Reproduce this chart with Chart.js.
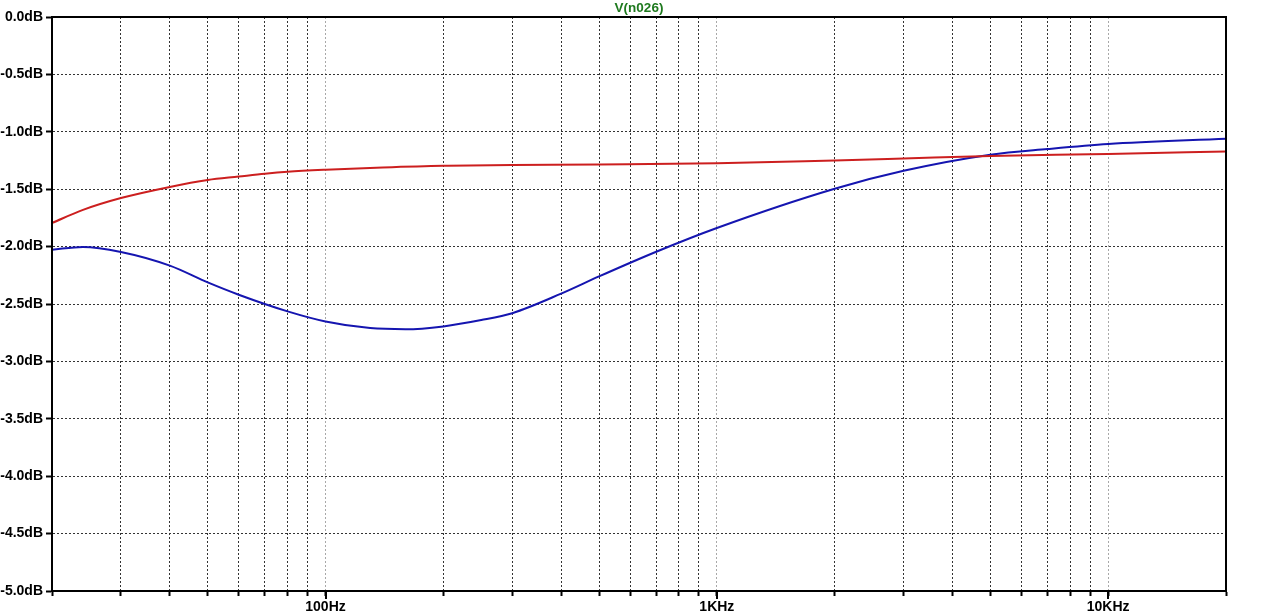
<!DOCTYPE html>
<html>
<head>
<meta charset="utf-8">
<script src="https://cdn.jsdelivr.net/npm/chart.js@4.4.1/dist/chart.umd.min.js"></script>
<style>
  html, body { margin: 0; padding: 0; background: #fff; }
  #wrap { width: 1280px; height: 616px; position: relative; }
</style>
</head>
<body>
<div id="wrap"><canvas id="plot"></canvas></div>
<script>
// blue trace: frequency (Hz) and level (dB)
var blueFreqs = [20, 24, 30, 40, 50, 60, 80, 100, 130, 160, 200, 250, 300, 400, 500, 700,
  1000, 2000, 3000, 5000, 7000, 10000, 20000];
var blueDb = [-2.027, -2.003, -2.047, -2.166, -2.312, -2.419, -2.564, -2.652, -2.71, -2.72, -2.695, -2.64,
  -2.58, -2.41, -2.26, -2.045, -1.838, -1.496, -1.34, -1.20, -1.15, -1.106, -1.06];

// red trace
var redFreqs = [20, 24, 30, 40, 50, 60, 70, 80, 100, 140, 200, 300, 500, 1000, 2000, 3000, 5000,
  10000, 20000];
var redDb = [-1.794, -1.68, -1.577, -1.48, -1.42, -1.39, -1.365, -1.348, -1.33, -1.31, -1.295, -1.29,
  -1.285, -1.275, -1.249, -1.232, -1.21, -1.194, -1.171];

var gridFreqs = [20, 30, 40, 50, 60, 70, 80, 90, 100, 200, 300, 400, 500, 600, 700, 800, 900,
  1000, 2000, 3000, 4000, 5000, 6000, 7000, 8000, 9000, 10000, 20000];
var xTickValues = [100, 1000, 10000];
var xTickLabels = ['100Hz', '1KHz', '10KHz'];
var yTicks = [0, -0.5, -1, -1.5, -2, -2.5, -3, -3.5, -4, -4.5, -5];
var traceTitle = 'V(n026)';

function toPoints(xs, ys){
    var pts = [];
    for (var i = 0; i < xs.length; i++) pts.push({x: xs[i], y: ys[i]});
    return pts;
}

var labelFont = {family: "'Liberation Sans', Arial, sans-serif", size: 14, weight: 'bold'};

var framePlugin = {
    id: 'frame',
    afterDatasetsDraw: function(chart){
        var a = chart.chartArea, ctx = chart.ctx;
        ctx.save();
        ctx.strokeStyle = '#000';
        ctx.lineWidth = 2;
        ctx.setLineDash([]);
        ctx.strokeRect(a.left, a.top, a.right - a.left, a.bottom - a.top);
        // longer ticks under the labelled decades
        var xs = chart.scales.x;
        ctx.beginPath();
        xTickValues.forEach(function(v){
            var px = Math.round(xs.getPixelForValue(v));
            ctx.moveTo(px, a.bottom);
            ctx.lineTo(px, a.bottom + 8);
        });
        ctx.stroke();
        ctx.fillStyle = '#1f7a1f';
        ctx.font = "bold 13.5px 'Liberation Sans', Arial, sans-serif";
        ctx.textAlign = 'center';
        ctx.textBaseline = 'middle';
        ctx.fillText(traceTitle, (a.left + a.right) / 2, 8.5);
        ctx.restore();
    }
};

var plot = document.getElementById('plot');
var plotChart = new Chart(plot, {
    type: 'line',
    data: {
        datasets: [{
            label: 'red',
            data: toPoints(redFreqs, redDb),
            borderColor: '#cc1f1f',
            borderWidth: 2,
            pointRadius: 0,
            cubicInterpolationMode: 'monotone'
        }, {
            label: 'blue',
            data: toPoints(blueFreqs, blueDb),
            borderColor: '#1515b0',
            borderWidth: 2,
            pointRadius: 0,
            cubicInterpolationMode: 'monotone'
        }]
    },
    options: {
        responsive: true,
        maintainAspectRatio: false,
        animation: false,
        layout: {padding: {top: 17, right: 54, left: 0, bottom: 0}},
        plugins: {
            legend: {display: false},
            tooltip: {enabled: false},
            title: {display: false}
        },
        scales: {
            x: {
                type: 'logarithmic',
                min: 20,
                max: 20000,
                afterBuildTicks: function(s){
                    s.ticks = gridFreqs.map(function(v){ return {value: v}; });
                },
                afterFit: function(s){ s.height = 25; },
                border: {display: true, color: '#000', width: 2, dash: [2, 2]},
                grid: {
                    color: function(c){
                        return c.tick && xTickValues.indexOf(c.tick.value) >= 0 ? '#a8a8a8' : '#333';
                    },
                    lineWidth: 1,
                    tickColor: '#000',
                    tickWidth: 2,
                    tickLength: 5
                },
                ticks: {
                    autoSkip: false,
                    maxRotation: 0,
                    padding: 3,
                    color: '#000',
                    font: labelFont,
                    callback: function(v){
                        var i = xTickValues.indexOf(v);
                        return i >= 0 ? xTickLabels[i] : '';
                    }
                }
            },
            y: {
                type: 'linear',
                min: -5,
                max: 0,
                afterBuildTicks: function(s){
                    s.ticks = yTicks.map(function(v){ return {value: v}; });
                },
                afterFit: function(s){ s.width = 52; },
                border: {display: true, color: '#000', width: 2, dash: [2, 2]},
                grid: {
                    color: '#333',
                    lineWidth: 1,
                    tickColor: '#000',
                    tickWidth: 2,
                    tickLength: 6
                },
                ticks: {
                    padding: 3,
                    color: '#000',
                    font: labelFont,
                    callback: function(v){ return v.toFixed(1) + 'dB'; }
                }
            }
        }
    },
    plugins: [framePlugin]
});
</script>
</body>
</html>
